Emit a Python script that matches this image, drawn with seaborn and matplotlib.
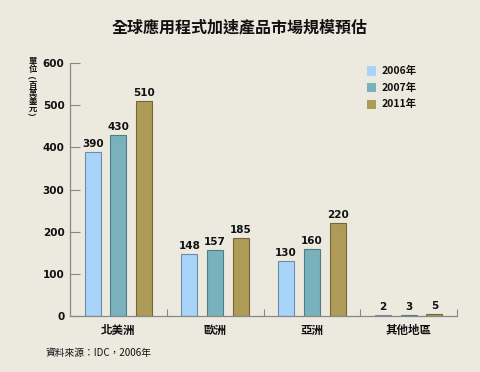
import numpy as np
import pandas as pd
import matplotlib
matplotlib.use('Agg')
import matplotlib.pyplot as plt
import seaborn as sns

regions = ['北美洲', '歐洲', '亞洲', '其他地區']
years = ['2006年', '2007年', '2011年']
values_2006 = [390, 148, 130, 2]
values_2007 = [430, 157, 160, 3]
values_2011 = [510, 185, 220, 5]
y_ticks = [0, 100, 200, 300, 400, 500, 600]

BG = '#ECE9DF'
COLORS = ['#A9D4FA', '#79B2BD', '#AE9B58']
EDGES = ['#6E8CA6', '#4E7D86', '#776634']

sns.set_theme(style='white')
plt.rcParams['font.family'] = ['Noto Sans CJK TC', 'DejaVu Sans']

df = pd.DataFrame({
    'region': regions * 3,
    'year': [years[0]] * 4 + [years[1]] * 4 + [years[2]] * 4,
    'value': values_2006 + values_2007 + values_2011,
})

fig = plt.figure(figsize=(4.8, 3.72), dpi=100, facecolor=BG)
ax = fig.add_axes([0.146, 0.1505, 0.806, 0.680])
ax.set_facecolor(BG)

sns.barplot(data=df, x='region', y='value', hue='year', palette=COLORS,
            saturation=1, width=0.8, gap=0.38, linewidth=0.8,
            legend=False, ax=ax)

# darker outline per series, value labels above bars
for container, edge in zip(ax.containers, EDGES):
    for bar in container:
        bar.set_edgecolor(edge)
    ax.bar_label(container, fmt='%d', padding=2, fontsize=7.5,
                 fontweight='bold', color='#111111', family='DejaVu Sans')

ax.set_xlim(-0.5, 3.5)
ax.set_ylim(0, 600)
ax.set_yticks(y_ticks)
ax.set_yticklabels([str(t) for t in y_ticks], fontsize=7.5, fontweight='bold',
                   family='DejaVu Sans')
ax.set_xticks(range(len(regions)))
ax.set_xticklabels(regions, fontsize=8.3, fontweight='bold')
ax.set_xticks([0.5, 1.5, 2.5, 3.5], minor=True)
ax.tick_params(axis='x', which='major', bottom=False, length=0, pad=6, colors='#111111')
ax.tick_params(axis='x', which='minor', bottom=True, direction='in', length=5,
               color='#888888', width=0.8)
ax.tick_params(axis='y', left=True, direction='in', length=7, color='#888888', width=0.8,
               pad=4, labelcolor='#111111')
ax.set_xlabel('')
ax.set_ylabel('')

for side in ['top', 'right']:
    ax.spines[side].set_visible(False)
for side in ['left', 'bottom']:
    ax.spines[side].set_color('#888888')
    ax.spines[side].set_linewidth(0.9)

# legend drawn as small squares with labels
for i, (yr, col) in enumerate(zip(years, COLORS)):
    y = 0.809 - i * 0.0445
    fig.patches.append(plt.Rectangle((0.765, y - 0.0125), 0.019, 0.025,
                                     transform=fig.transFigure, facecolor=col,
                                     edgecolor='none'))
    fig.text(0.794, y, yr, fontsize=7.5, fontweight='bold', va='center', ha='left',
             color='#111111')

fig.text(0.5, 0.927, '全球應用程式加速產品市場規模預估', ha='center', va='center',
         fontsize=11.5, fontweight='bold', color='#111111')

# vertical unit label, one character per line
unit = '單位︵百萬美元︶'
for i, ch in enumerate(unit):
    fig.text(32.5 / 480, 1 - (61.5 + i * 8.0) / 372, ch, ha='center', va='center',
             fontsize=6, fontweight='bold', color='#111111')

fig.text(0.094, 0.051, '資料來源：IDC，2006年', ha='left', va='center',
         fontsize=7, color='#111111')

fig.savefig('out.png', dpi=100, facecolor=BG)
